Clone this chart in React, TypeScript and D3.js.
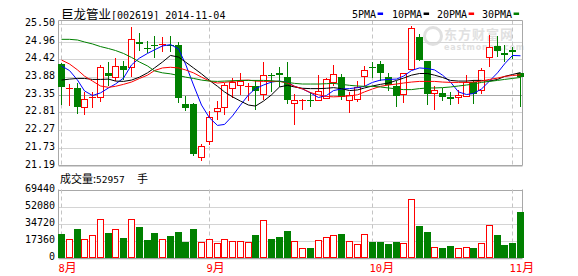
import React from 'react';
import * as d3 from 'd3';

const W = 578;
const H = 276;

const stockName = '巨龙管业';
const stockInfo = '[002619] 2014-11-04';
const volumeLabel = '成交量:';
const volumeValueText = '52957';
const volumeUnit = '手';

const openP = [24.28, 23.53, 23.54, 22.96, 23.24, 23.27, 24.0, 23.89, 24.22, 24.18, 24.95, 24.76, 24.87, 24.86, 24.87, 24.87, 23.06, 23.06, 21.44, 21.93, 22.84, 22.96, 23.55, 23.63, 23.57, 23.62, 23.37, 23.94, 24.0, 23.87, 23.09, 23.18, 23.19, 23.17, 23.24, 23.72, 23.87, 23.19, 23.21, 23.91, 24.19, 24.28, 23.87, 23.61, 23.36, 24.14, 25.11, 24.36, 23.39, 23.39, 23.28, 23.27, 23.31, 23.73, 23.5, 24.48, 24.83, 24.61, 24.71, 24.0];
const closeP = [23.57, 23.56, 22.96, 23.21, 23.27, 24.2, 23.92, 24.21, 24.1, 25.03, 24.89, 24.74, 24.84, 24.88, 24.85, 23.24, 22.94, 21.54, 21.78, 22.66, 22.93, 23.63, 23.73, 23.77, 23.6, 23.45, 23.94, 23.92, 23.93, 23.18, 23.17, 23.19, 23.16, 23.45, 23.81, 23.98, 23.27, 23.35, 23.57, 24.11, 24.17, 24.01, 23.64, 23.32, 24.0, 25.36, 24.41, 23.37, 23.49, 23.26, 23.2, 23.34, 23.73, 23.37, 24.09, 24.79, 24.69, 24.56, 24.63, 23.88];
const highP = [24.3, 23.68, 23.71, 23.42, 23.44, 24.26, 24.34, 24.46, 24.38, 25.41, 25.23, 24.98, 25.13, 25.11, 25.12, 24.95, 23.3, 23.09, 21.84, 22.84, 23.14, 23.7, 23.85, 24.0, 23.7, 23.8, 24.34, 24.0, 24.18, 24.35, 23.37, 23.2, 23.43, 23.95, 23.85, 24.26, 23.98, 23.43, 23.76, 24.21, 24.34, 24.37, 24.0, 23.75, 24.02, 25.45, 25.18, 24.38, 23.62, 23.56, 23.44, 23.5, 23.94, 23.78, 24.16, 25.16, 25.14, 24.85, 24.81, 24.01];
const lowP = [23.03, 23.0, 22.75, 22.73, 22.95, 23.12, 23.6, 23.75, 23.8, 23.87, 24.67, 24.61, 24.45, 24.64, 24.64, 23.09, 22.84, 21.47, 21.34, 21.82, 22.58, 22.74, 23.24, 23.35, 23.14, 22.89, 23.19, 23.44, 23.59, 23.06, 22.43, 22.88, 22.96, 23.17, 23.22, 23.6, 23.18, 22.79, 23.12, 23.6, 23.85, 23.75, 23.47, 22.96, 23.09, 24.1, 24.36, 23.03, 22.88, 23.15, 23.02, 23.06, 23.28, 23.06, 23.37, 24.2, 24.48, 24.34, 24.43, 22.96];
const volumes = [23800, 18400, 29600, 19400, 22500, 39800, 24800, 29600, 19700, 39800, 31600, 17700, 24800, 18400, 21700, 25800, 16000, 29600, 15600, 18400, 14300, 19000, 17300, 17300, 15600, 22800, 38800, 18700, 20700, 26900, 16600, 9200, 9200, 17400, 21400, 22500, 23800, 16600, 13300, 23500, 15600, 15600, 13600, 15600, 14300, 60200, 32000, 25800, 11200, 9500, 11500, 9200, 11200, 9500, 14300, 32700, 22800, 12600, 14600, 46300];

const ma5 = [24.22, 24.08, 23.79, 23.46, 23.32, 23.4, 23.55, 23.67, 23.85, 24.25, 24.46, 24.6, 24.71, 24.83, 24.87, 24.74, 24.28, 23.64, 23.03, 22.64, 22.41, 22.44, 22.7, 23.03, 23.34, 23.53, 23.64, 23.73, 23.76, 23.72, 23.6, 23.52, 23.4, 23.26, 23.32, 23.47, 23.52, 23.53, 23.56, 23.6, 23.72, 23.79, 23.81, 23.82, 23.91, 24.08, 24.16, 24.14, 24.1, 23.94, 23.73, 23.43, 23.35, 23.38, 23.52, 23.76, 24.01, 24.28, 24.54, 24.53];
const ma10 = [23.79, 23.82, 23.84, 23.84, 23.81, 23.81, 23.82, 23.76, 23.75, 23.79, 23.88, 24.01, 24.16, 24.34, 24.54, 24.49, 24.34, 24.16, 23.98, 23.78, 23.6, 23.43, 23.28, 23.15, 23.03, 23.0, 23.15, 23.34, 23.58, 23.63, 23.58, 23.54, 23.53, 23.53, 23.54, 23.56, 23.53, 23.47, 23.49, 23.55, 23.61, 23.66, 23.7, 23.78, 23.85, 23.94, 23.99, 23.99, 23.94, 23.87, 23.78, 23.76, 23.76, 23.78, 23.78, 23.76, 23.81, 23.9, 23.96, 24.02];
const ma20 = [24.4, 24.28, 24.1, 23.91, 23.76, 23.61, 23.57, 23.6, 23.66, 23.73, 23.84, 23.94, 24.08, 24.16, 24.18, 24.16, 24.1, 24.01, 23.88, 23.76, 23.7, 23.72, 23.75, 23.78, 23.79, 23.76, 23.75, 23.75, 23.75, 23.7, 23.6, 23.52, 23.41, 23.34, 23.29, 23.28, 23.29, 23.31, 23.34, 23.43, 23.52, 23.6, 23.64, 23.67, 23.7, 23.73, 23.75, 23.75, 23.75, 23.73, 23.72, 23.72, 23.72, 23.73, 23.76, 23.81, 23.85, 23.9, 23.93, 23.95];
const ma30 = [25.03, 25.03, 25.01, 24.95, 24.89, 24.81, 24.75, 24.69, 24.6, 24.48, 24.34, 24.22, 24.07, 24.01, 23.98, 23.93, 23.88, 23.84, 23.79, 23.76, 23.75, 23.76, 23.77, 23.78, 23.78, 23.78, 23.78, 23.77, 23.75, 23.72, 23.69, 23.67, 23.67, 23.67, 23.68, 23.69, 23.66, 23.63, 23.61, 23.6, 23.6, 23.58, 23.55, 23.52, 23.5, 23.5, 23.53, 23.55, 23.55, 23.56, 23.58, 23.61, 23.64, 23.67, 23.72, 23.75, 23.78, 23.81, 23.84, 23.87];

const priceTicks = ['25.50', '24.96', '24.42', '23.88', '23.35', '22.81', '22.27', '21.73', '21.19'];
const volumeTicks = ['69440', '52080', '34720', '17360', '0'];
const monthNums = ['8', '9', '10', '11'];
const monthStartIdx = [0, 19, 40, 58];
const legendNames = ['5PMA', '10PMA', '20PMA', '30PMA'];
const legendColors = ['#0000ff', '#000000', '#ff0000', '#008000'];

const RED = '#ff0000';
const GREEN = '#008000';
const MONO = '"DejaVu Sans Mono", "Liberation Mono", monospace';
const CJK = '"Noto Sans CJK SC", "Noto Sans", sans-serif';

export default function App() {
  const n = closeP.length;
  const idx = d3.range(n);
  const left = 58.5;
  const right = 522.5;
  const priceTop = 20.5;
  const priceBottom = 165.5;
  const volTop = 189.5;
  const volBottom = 257.5;

  const x = d3
    .scaleBand<number>()
    .domain(idx)
    .range([57.1, 523.9])
    .paddingInner(0.25)
    .paddingOuter(0.125);
  const bw = x.bandwidth();
  const cx = (i: number) => Math.round((x(i) as number) + bw / 2) + 0.5;

  const pMin = +priceTicks[priceTicks.length - 1];
  const pMax = +priceTicks[0];
  const y = d3.scaleLinear().domain([pMin, pMax]).range([165.5, 23.9]);
  const vy = d3.scaleLinear().domain([0, +volumeTicks[0]]).range([volBottom, volTop]);

  const line = (arr: number[]) =>
    d3
      .line<number>()
      .x((_, i) => cx(i))
      .y((d) => y(d))(arr) as string;

  const maSeries = [ma5, ma10, ma20, ma30];
  const half = Math.round(bw / 2);

  return (
    <svg width={W} height={H} style={{ display: 'block', position: 'absolute', left: 0, top: 0, background: '#fff' }}>
      <rect x={0} y={0} width={W} height={H} fill="#fff" />
      {/* Title */}
      <text x={61} y={19} fontSize={12.5} fill="#000">
        <tspan fontFamily={CJK}>{stockName}</tspan>
        <tspan fontFamily={MONO} fontSize={10}>{stockInfo}</tspan>
      </text>
      {/* Legend */}
      {legendNames.map((nm, k) => {
        const xs = [352, 392, 437, 482][k];
        const w = nm.length * 6.02;
        return (
          <g key={nm}>
            <text x={xs} y={18} fontFamily={MONO} fontSize={10} fill="#000">{nm}</text>
            <rect x={xs + w + 1.5} y={12.5} width={5.5} height={2.5} fill={legendColors[k]} />
          </g>
        );
      })}

      {/* watermark */}
      <g opacity={0.55}>
        <circle cx={433} cy={36} r={8.5} fill="none" stroke="#c8c8c8" strokeWidth={3} />
        <text x={444} y={39} fontFamily={CJK} fontWeight="bold" fontSize={13} fill="#c8c8c8" letterSpacing={1}>东方财富网</text>
        <text x={444} y={50} fontFamily={'"DejaVu Sans", sans-serif'} fontWeight="bold" fontSize={8} fill="#c8c8c8" letterSpacing={0.8}>eastmoney.com</text>
      </g>

      {/* Price gridlines */}
      {priceTicks.map((t) => {
        const yy = Math.round(y(+t)) + 0.5;
        return (
          <g key={t}>
            <line x1={left} x2={right} y1={yy} y2={yy} stroke={t === '23.35' ? '#a8a8a8' : '#d4d4d4'} strokeWidth={1} />
            <text x={55} y={yy + 1} textAnchor="end" fontFamily={MONO} fontSize={10} fill="#000">{t}</text>
          </g>
        );
      })}
      {/* Volume gridlines */}
      {volumeTicks.map((t) => {
        const yy = Math.round(vy(+t)) + 0.5;
        return (
          <g key={t}>
            <line x1={left} x2={right} y1={yy} y2={yy} stroke={t === '0' ? '#a0a0a0' : t === volumeTicks[0] ? '#a8a8a8' : '#d4d4d4'} strokeWidth={t === '0' ? 1.5 : 1} />
            <text x={55} y={yy + 1} textAnchor="end" fontFamily={MONO} fontSize={10} fill="#000">{t}</text>
          </g>
        );
      })}
      {/* month dashed lines */}
      {monthStartIdx.map((m) => (
        <g key={m}>
          <line x1={cx(m)} x2={cx(m)} y1={priceTop} y2={priceBottom} stroke="#c4c4c4" strokeDasharray="4,3" />
          <line x1={cx(m)} x2={cx(m)} y1={volTop} y2={volBottom} stroke="#c4c4c4" strokeDasharray="4,3" />
        </g>
      ))}
      {/* Frames */}
      <line x1={left} x2={right} y1={priceTop} y2={priceTop} stroke="#a8a8a8" />
      <line x1={left} x2={left} y1={priceTop} y2={priceBottom} stroke="#a8a8a8" />
      <line x1={right} x2={right} y1={priceTop} y2={priceBottom} stroke="#a8a8a8" />
      <line x1={left} x2={right} y1={priceBottom} y2={priceBottom} stroke="#a8a8a8" />
      <line x1={left} x2={left} y1={volTop} y2={volBottom} stroke="#a8a8a8" />
      <line x1={right} x2={right} y1={volTop} y2={volBottom} stroke="#a8a8a8" />

      {/* Candles */}
      {idx.map((i) => {
        const o = openP[i];
        const c = closeP[i];
        const up = c >= o;
        const col = up ? RED : GREEN;
        const xc = cx(i);
        const yT = Math.round(y(Math.max(o, c)));
        const yB = Math.round(y(Math.min(o, c)));
        const yH = Math.round(y(highP[i]));
        const yL = Math.round(y(lowP[i]));
        const x0 = xc - 0.5 - half;
        const w = half * 2 + 1;
        const bodyH = Math.max(1, yB - yT);
        return (
          <g key={i}>
            {up ? (
              <>
                <line x1={xc} x2={xc} y1={yH} y2={yT} stroke={col} />
                <line x1={xc} x2={xc} y1={yB} y2={yL} stroke={col} />
                {yB - yT <= 1 ? (
                  <line x1={x0} x2={x0 + w} y1={yT + 0.5} y2={yT + 0.5} stroke={col} />
                ) : (
                  <rect x={x0 + 0.5} y={yT + 0.5} width={w - 1} height={bodyH - 1 < 1 ? 1 : bodyH} fill="#fff" stroke={col} />
                )}
              </>
            ) : (
              <>
                <line x1={xc} x2={xc} y1={yH} y2={yL} stroke={col} />
                <rect x={x0} y={yT} width={w} height={bodyH} fill={col} />
              </>
            )}
          </g>
        );
      })}

      {/* MA lines */}
      {maSeries.map((arr, k) => (
        <path key={k} d={line(arr)} fill="none" stroke={legendColors[k]} strokeWidth={1} />
      ))}

      {/* Volume label */}
      <text x={60} y={182.5} fontSize={11} fill="#000">
        <tspan fontFamily={CJK}>{volumeLabel}</tspan>
        <tspan fontFamily={MONO} fontSize={9.5}>{volumeValueText}</tspan>
      </text>
      <text x={137} y={182.5} fontSize={11} fill="#000" fontFamily={CJK}>{volumeUnit}</text>

      {/* Volume bars */}
      {idx.map((i) => {
        const up = closeP[i] >= openP[i];
        const col = up ? RED : GREEN;
        const xc = cx(i);
        const x0 = xc - 0.5 - half;
        const w = half * 2 + 1;
        const yT = Math.round(vy(volumes[i]));
        const yB = Math.round(vy(0));
        return up ? (
          <rect key={i} x={x0 + 0.5} y={yT + 0.5} width={w - 1} height={yB - yT - 1} fill="#fff" stroke={col} />
        ) : (
          <rect key={i} x={x0} y={yT} width={w} height={yB - yT} fill={col} />
        );
      })}

      {/* Month labels */}
      {monthStartIdx.map((m, k) => (
        <text key={m} x={cx(m) - 3} y={272} fill={RED} fontSize={12}>
          <tspan fontFamily={MONO} fontSize={10.5}>{monthNums[k]}</tspan>
          <tspan fontFamily={CJK}>月</tspan>
        </text>
      ))}
    </svg>
  );
}
